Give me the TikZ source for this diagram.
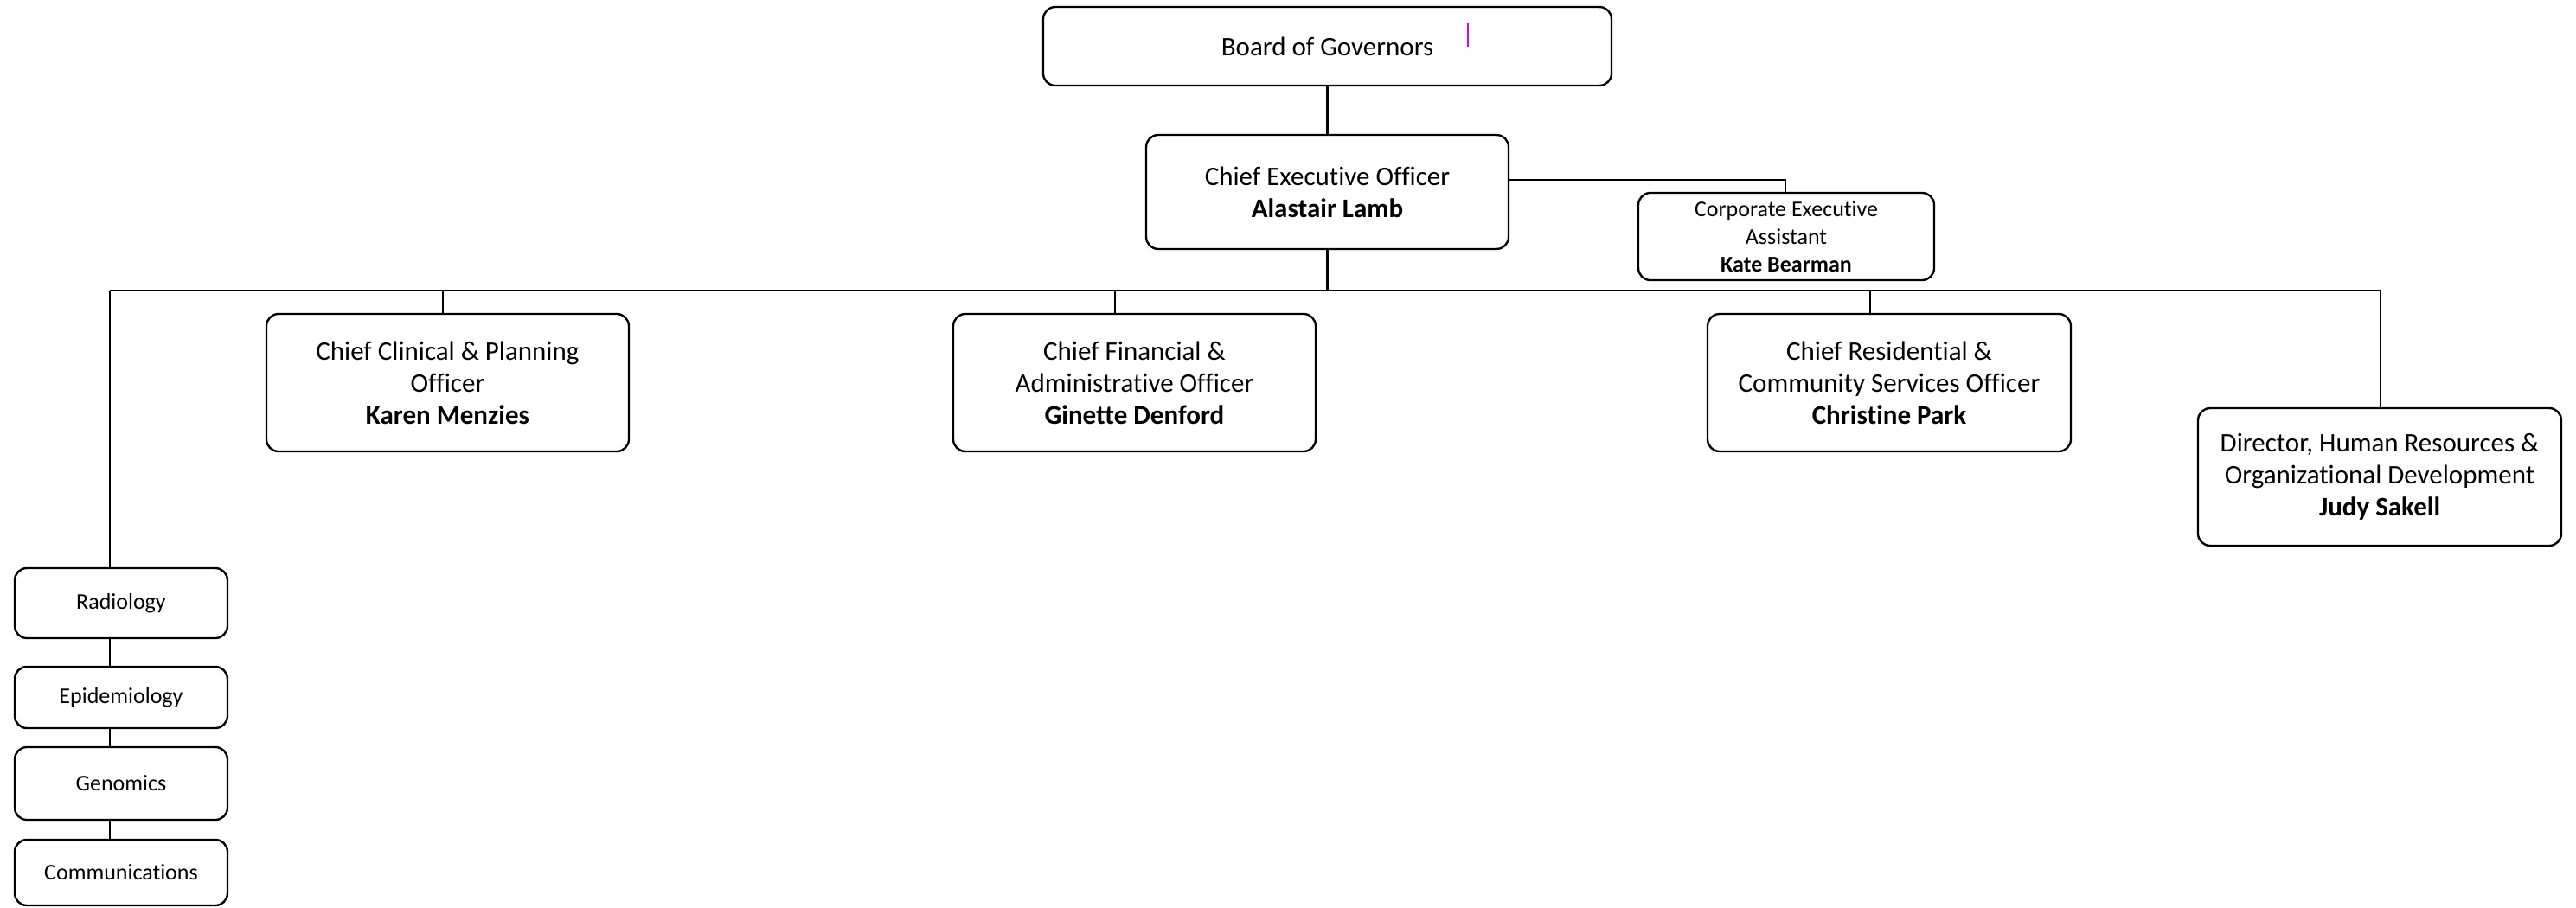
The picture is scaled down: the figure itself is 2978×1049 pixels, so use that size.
\documentclass[tikz,border=0pt]{standalone}
\usepackage{fontspec}
\setmainfont{Carlito}[Ligatures={NoCommon}]
\definecolor{cursormark}{RGB}{220,0,220}
\begin{document}
\begin{tikzpicture}[x=1pt,y=-1pt,
  box/.style={draw, line width=2.4pt, rounded corners=14pt, align=center, inner sep=0pt, font=\fontsize{31}{37}\selectfont},
  smallbox/.style={box, font=\fontsize{26}{32}\selectfont},
  link/.style={line width=2.4pt}]
\useasboundingbox[fill=white] (0,0) rectangle (2978,1049);
% top
\node[box, minimum width=657pt, minimum height=91pt] (board) at (1534.5,53.5) {Board of Governors};
\node[box, minimum width=419pt, minimum height=132pt] (ceo) at (1534.5,222) {Chief Executive Officer\\\textbf{Alastair Lamb}};
\node[smallbox, minimum width=342pt, minimum height=101pt] (cea) at (2065,273.5) {Corporate Executive\\Assistant\\\textbf{Kate Bearman}};
% second level
\node[box, minimum width=419pt, minimum height=159pt] (karen) at (517.5,442.5) {Chief Clinical \& Planning\\Officer\\\textbf{Karen Menzies}};
\node[box, minimum width=419pt, minimum height=159pt] (ginette) at (1311.5,442.5) {Chief Financial \&\\Administrative Officer\\\textbf{Ginette Denford}};
\node[box, minimum width=420pt, minimum height=159pt] (christine) at (2184,442.5) {Chief Residential \&\\Community Services Officer\\\textbf{Christine Park}};
\node[box, minimum width=420pt, minimum height=159pt] (judy) at (2751,551.5) {Director, Human Resources \&\\Organizational Development\\\textbf{Judy Sakell}};
% left column
\node[smallbox, minimum width=246pt, minimum height=81pt] (rad) at (140,697.5) {Radiology};
\node[smallbox, minimum width=246pt, minimum height=71pt] (epi) at (140,806.5) {Epidemiology};
\node[smallbox, minimum width=246pt, minimum height=84pt] (gen) at (140,906) {Genomics};
\node[smallbox, minimum width=246pt, minimum height=76pt] (com) at (140,1009) {Communications};
% connectors
\coordinate (busL) at (127,336);
\coordinate (busR) at (2752,336);
\coordinate (tapK) at (512,336);
\coordinate (tapG) at (1289,336);
\coordinate (tapC) at (2162,336);
\coordinate (ceaTap) at (2064,208);
\draw[link] (board.south) -- (ceo.north);
\draw[link] (ceo.south) -- (ceo.south |- busL);
\draw[link] (busL) -- (busR);
\draw[link] (ceo.east |- ceaTap) -- (ceaTap) -- (ceaTap |- cea.north);
\draw[link] (tapK) -- (tapK |- karen.north);
\draw[link] (tapG) -- (tapG |- ginette.north);
\draw[link] (tapC) -- (tapC |- christine.north);
\draw[link] (busR) -- (busR |- judy.north);
\draw[link] (busL) -- (busL |- rad.north);
\draw[link] (busL |- rad.south) -- (busL |- epi.north);
\draw[link] (busL |- epi.south) -- (busL |- gen.north);
\draw[link] (busL |- gen.south) -- (busL |- com.north);
% cursor mark
\draw[cursormark, line width=2pt] (1697,27) -- (1697,54);
\end{tikzpicture}
\end{document}
